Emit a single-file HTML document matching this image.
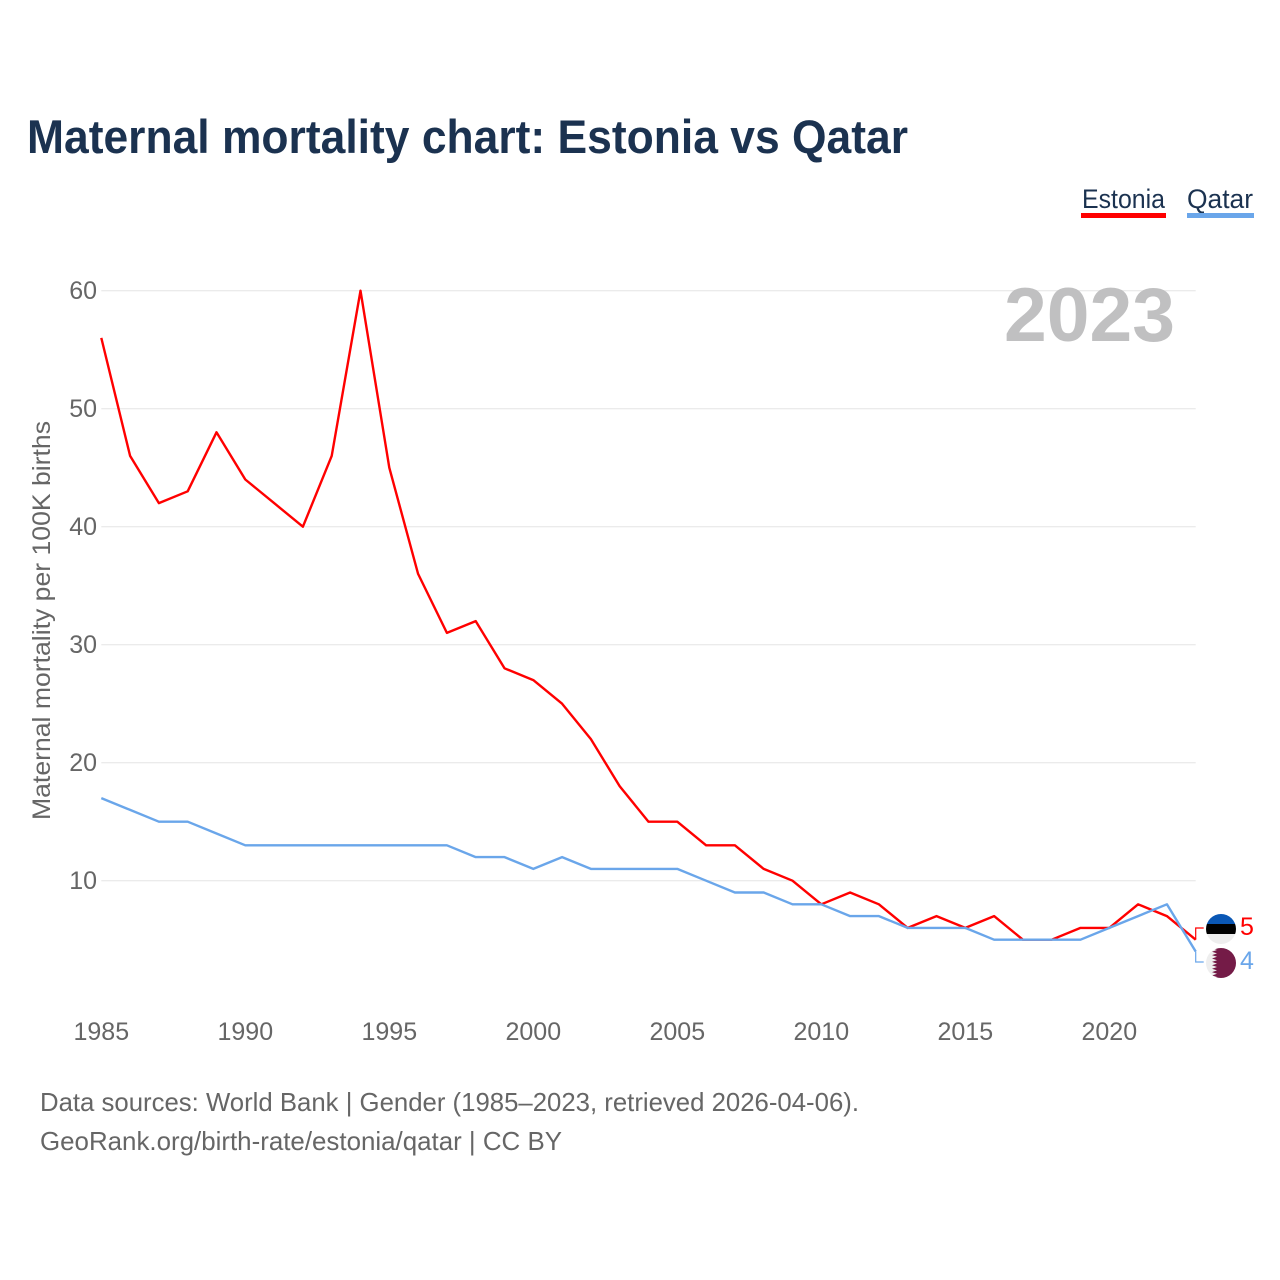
<!DOCTYPE html>
<html>
<head>
<meta charset="utf-8">
<title>Maternal mortality chart: Estonia vs Qatar</title>
<style>
html,body{margin:0;padding:0;background:#fff;width:1280px;height:1280px;overflow:hidden}
svg{display:block}
text{font-family:"Liberation Sans",sans-serif}
</style>
</head>
<body>
<svg id="chart" width="1280" height="1280" viewBox="0 0 1280 1280" xmlns="http://www.w3.org/2000/svg">
  <rect width="1280" height="1280" fill="#fff"/>
  <text x="27" y="153" font-size="47" font-weight="700" fill="#1b3250" textLength="881" lengthAdjust="spacingAndGlyphs">Maternal mortality chart: Estonia vs Qatar</text>
  <g id="grid"></g>
  <text x="1004" y="341" font-size="76" font-weight="700" fill="#c0c0c1" textLength="171" lengthAdjust="spacingAndGlyphs">2023</text>
  <g id="yticks"></g>
  <g id="xticks"></g>
  <text transform="translate(50,820) rotate(-90)" x="0" y="0" font-size="25" fill="#666" textLength="399" lengthAdjust="spacingAndGlyphs">Maternal mortality per 100K births</text>
  <g id="series"></g>
  <g>
    <text x="1082" y="208" font-size="27" fill="#1b3250" textLength="83" lengthAdjust="spacingAndGlyphs">Estonia</text>
    <rect x="1081" y="213" width="85" height="5" fill="#ff0000"/>
    <text x="1187" y="208" font-size="27" fill="#1b3250" textLength="66" lengthAdjust="spacingAndGlyphs">Qatar</text>
    <rect x="1187" y="213" width="67" height="5" fill="#6aa6ea"/>
  </g>
  <defs>
    <clipPath id="flag-clip-ee"><circle cx="1221" cy="929" r="15"/></clipPath>
    <clipPath id="flag-clip-qa"><circle cx="1221" cy="963" r="15"/></clipPath>
  </defs>
  <g clip-path="url(#flag-clip-ee)">
    <rect x="1206" y="914" width="30" height="10" fill="#0a57b5"/>
    <rect x="1206" y="924" width="30" height="10" fill="#000"/>
    <rect x="1206" y="934" width="30" height="10" fill="#eee"/>
  </g>
  <g clip-path="url(#flag-clip-qa)">
    <rect x="1206" y="948" width="30" height="30" fill="#eee"/>
    <polygon fill="#741b47" points="1236,948 1212,948 1217,950 1212,951.700 1217,953.400 1212,955.100 1217,956.800 1212,958.500 1217,960.200 1212,961.900 1217,963.600 1212,965.300 1217,967 1212,968.700 1217,970.400 1212,972.100 1217,973.800 1212,975.500 1217,977 1212,978 1236,978"/>
  </g>
  <text x="1240" y="935" font-size="25" fill="#ff0000">5</text>
  <text x="1240" y="969" font-size="25" fill="#6aa6ea">4</text>
  <g>
    <text x="40" y="1111" font-size="26" fill="#666" textLength="819" lengthAdjust="spacingAndGlyphs">Data sources: World Bank | Gender (1985–2023, retrieved 2026-04-06).</text>
    <text x="40" y="1150" font-size="26" fill="#666" textLength="522" lengthAdjust="spacingAndGlyphs">GeoRank.org/birth-rate/estonia/qatar | CC BY</text>
  </g>
</svg>
<script>
const years = [1985,1986,1987,1988,1989,1990,1991,1992,1993,1994,1995,1996,1997,1998,1999,2000,2001,2002,2003,2004,2005,2006,2007,2008,2009,2010,2011,2012,2013,2014,2015,2016,2017,2018,2019,2020,2021,2022,2023];
const estonia = [56,46,42,43,48,44,42,40,46,60,45,36,31,32,28,27,25,22,18,15,15,13,13,11,10,8,9,8,6,7,6,7,5,5,6,6,8,7,5];
const qatar = [17,16,15,15,14,13,13,13,13,13,13,13,13,12,12,11,12,11,11,11,11,10,9,9,8,8,7,7,6,6,6,5,5,5,5,6,7,8,4];
const yTickLabels = [10,20,30,40,50,60];
const xTickLabels = [1985,1990,1995,2000,2005,2010,2015,2020];

const NS = 'http://www.w3.org/2000/svg';
function xScale(year){ return 101.3 + (year - 1985) * 28.8; }
function yScale(value){ return 998.7 - value * 11.8; }

const grid = document.getElementById('grid');
const yticks = document.getElementById('yticks');
const xticks = document.getElementById('xticks');
const seriesGroup = document.getElementById('series');

yTickLabels.forEach(function(v){
  const line = document.createElementNS(NS,'line');
  
  
  line.setAttribute('x1', xScale(1985));
  line.setAttribute('x2', xScale(2023));
  line.setAttribute('y1', yScale(v));
  line.setAttribute('y2', yScale(v));
  line.setAttribute('stroke', '#ebebeb');
  line.setAttribute('stroke-width', '1.3');
  grid.appendChild(line);

  const t = document.createElementNS(NS,'text');
  
  
  t.setAttribute('x', 97);
  t.setAttribute('y', yScale(v) + 8.5);
  t.setAttribute('text-anchor', 'end');
  t.setAttribute('font-size', '25');
  t.setAttribute('fill', '#666');
  t.textContent = v;
  yticks.appendChild(t);
});

xTickLabels.forEach(function(y){
  const t = document.createElementNS(NS,'text');
  
  
  t.setAttribute('x', xScale(y));
  t.setAttribute('y', 1040);
  t.setAttribute('text-anchor', 'middle');
  t.setAttribute('font-size', '25');
  t.setAttribute('fill', '#666');
  t.textContent = y;
  xticks.appendChild(t);
});

function drawSeries(values, color, name){
  const p = document.createElementNS(NS,'polyline');
  
  
  p.setAttribute('fill', 'none');
  p.setAttribute('stroke', color);
  p.setAttribute('stroke-width', '2.4');
  p.setAttribute('stroke-linejoin', 'round');
  p.setAttribute('points', values.map(function(v,i){ return xScale(years[i]) + ',' + yScale(v); }).join(' '));
  seriesGroup.appendChild(p);
}
drawSeries(estonia, '#ff0000', 'estonia-line');
drawSeries(qatar, '#6aa6ea', 'qatar-line');

function drawConnector(values, labelY, color, name){
  const last = values.length - 1;
  const x0 = xScale(years[last]);
  const c = document.createElementNS(NS,'polyline');
  
  
  c.setAttribute('fill', 'none');
  c.setAttribute('stroke', color);
  c.setAttribute('stroke-width', '1.2');
  c.setAttribute('points', x0 + ',' + yScale(values[last]) + ' ' + x0 + ',' + labelY + ' ' + (x0 + 8) + ',' + labelY);
  seriesGroup.appendChild(c);
}
drawConnector(estonia, 928, '#ff0000', 'estonia-end-connector');
drawConnector(qatar, 962, '#6aa6ea', 'qatar-end-connector');
</script>
</body>
</html>
